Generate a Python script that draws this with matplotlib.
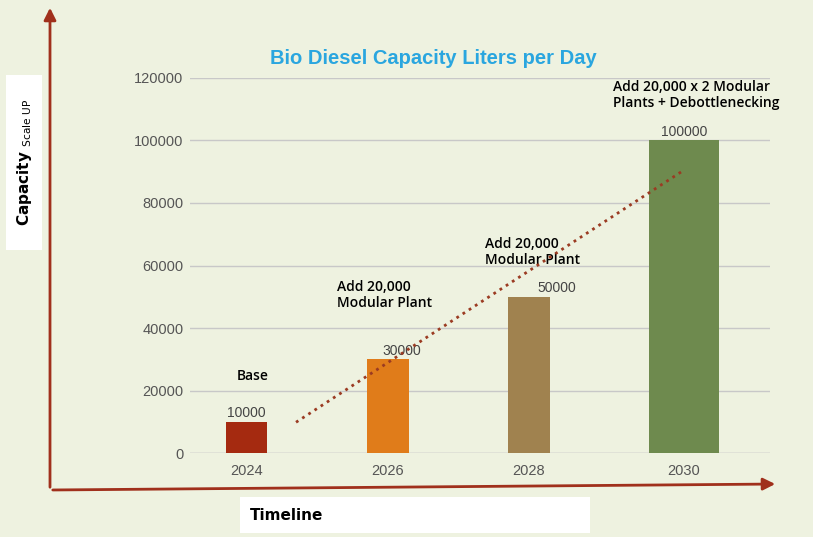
import matplotlib
matplotlib.use('Agg')
import matplotlib.pyplot as plt
from matplotlib.patches import Rectangle, FancyArrowPatch

years = ['2024', '2026', '2028', '2030']
capacity = [10000, 30000, 50000, 100000]
xpos = [0, 1, 2, 3.1]
colors = ['#A52A10', '#E07C1A', '#A0824F', '#6E8A4E']
widths = [0.29, 0.3, 0.3, 0.5]
notes = ['Base', 'Add 20,000\nModular Plant', 'Add 20,000\nModular Plant',
         'Add 20,000 x 2 Modular\nPlants + Debottlenecking']

fig = plt.figure(figsize=(8.13, 5.37), dpi=100, facecolor='#eef2e0')
ax = fig.add_axes([0.234, 0.156, 0.713, 0.699])
ax.set_facecolor('none')
ax.bar(xpos, capacity, width=widths, color=colors, zorder=3)
for x, v in zip(xpos, capacity):
    ax.text(x + 0.1 if v == 30000 else x + 0.2 if v == 50000 else x, v + 600, str(v),
            ha='center', va='bottom', fontsize=10, color='#444444', family='Liberation Sans')
ax.set_xlim(-0.4, 3.71)
ax.set_ylim(0, 120000)
ax.set_yticks(range(0, 120001, 20000))
ax.set_xticks(xpos)
ax.set_xticklabels(years)
ax.tick_params(length=0, labelsize=10.5, colors='#555555', pad=8)
ax.tick_params(axis='y', pad=5)
for lab in ax.get_xticklabels() + ax.get_yticklabels():
    lab.set_family('Liberation Sans')
ax.grid(axis='y', color='#c8c8c8', lw=1, zorder=0)
for s in ax.spines.values():
    s.set_visible(False)
ax.axhline(0, color='#c8c8c8', lw=1, zorder=0)

# dotted trend line
ax.plot([0.35, 3.1], [9900, 90500], ls=':', lw=2, color='#9B3B22', zorder=4)

ax.set_title('Bio Diesel Capacity Liters per Day', fontsize=14.5, fontweight='bold',
             color='#2AA6DF', family='Liberation Sans', pad=10, x=0.42)

# annotations (left edge, bottom)
note_pos = [(-0.07, 22400), (0.64, 45800), (1.69, 59500), (2.6, 109800)]
for (x, y), t in zip(note_pos, notes):
    ax.text(x, y, t, ha='left', va='bottom', fontsize=10, fontweight='semibold',
            family='Open Sans', linespacing=1.15)

# axes arrows
ar = dict(arrowstyle='-|>', color='#A0301C', lw=2, mutation_scale=18)
fig.add_artist(FancyArrowPatch((50 / 813, 1 - 490 / 537), (50 / 813, 1 - 5 / 537),
                               transform=fig.transFigure, **ar))
fig.add_artist(FancyArrowPatch((50 / 813, 1 - 490 / 537), (778 / 813, 1 - 484 / 537),
                               transform=fig.transFigure, **ar))

# label boxes
fig.add_artist(Rectangle((6 / 813, 1 - 250 / 537), 36 / 813, 175 / 537, transform=fig.transFigure,
                         facecolor='white', edgecolor='none'))
fig.text(24 / 813, 1 - 162 / 537, 'Capacity $_{\\mathrm{Scale\\ UP}}$', rotation=90, ha='center',
         va='center', fontsize=11, fontweight='bold')
fig.add_artist(Rectangle((240 / 813, 1 - 533 / 537), 350 / 813, 36 / 537, transform=fig.transFigure,
                         facecolor='white', edgecolor='none'))
fig.text(250 / 813, 1 - 515 / 537, 'Timeline', ha='left', va='center', fontsize=11, fontweight='bold')

fig.savefig('out.png', dpi=100, facecolor=fig.get_facecolor())
